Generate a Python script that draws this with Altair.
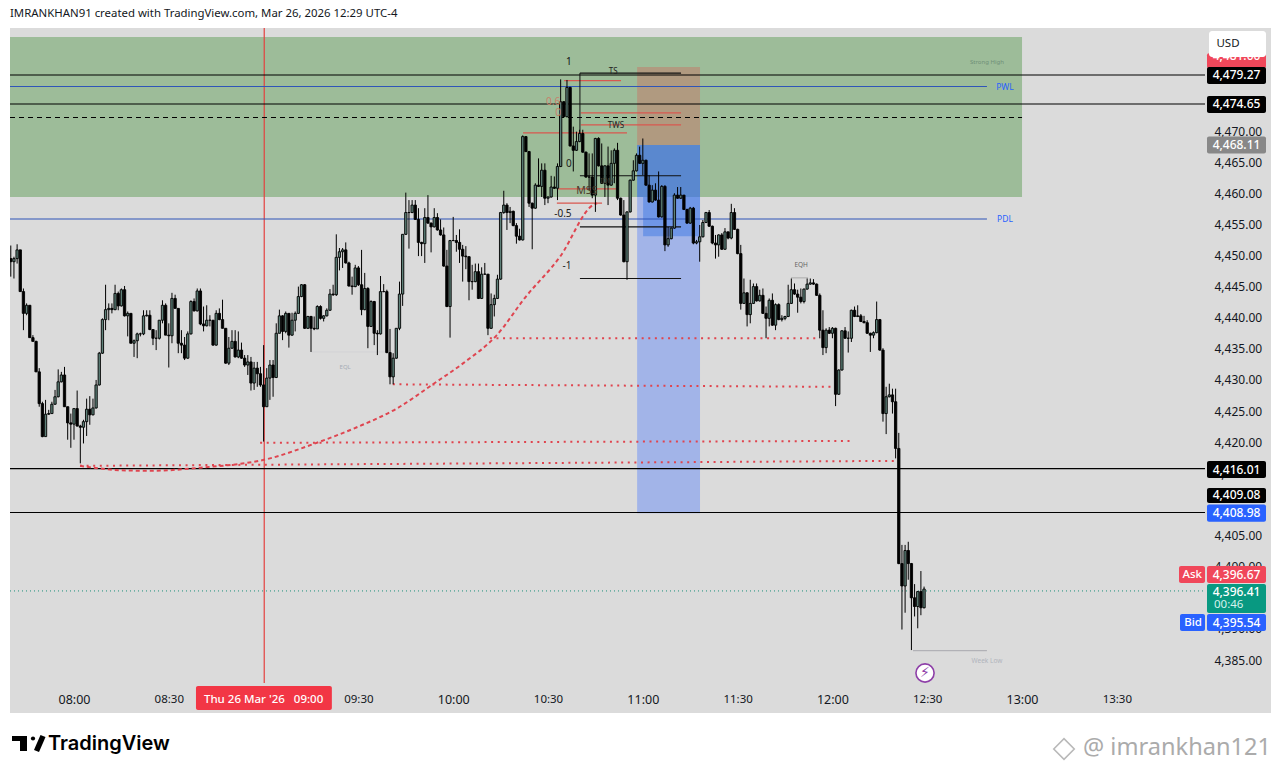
import altair as alt
import pandas as pd

FONT = "Noto Sans"
# ---------- candles (one per minute, first at 07:40) ----------
first_minute = 460
first_open = 4449.5
closes = [
4449.0,4449.5,4450.9,4444.2,4440.7,4442.0,4436.8,4436.2,4431.3,4426.2,
4420.9,4424.5,4424.6,4426.1,4427.3,4429.7,4430.8,4425.7,4423.1,4422.9,
4425.4,4422.6,4422.4,4423.3,4425.3,4424.4,4425.5,4429.2,4434.3,4439.7,
4441.3,4441.5,4441.3,4443.9,4441.9,4444.5,4440.3,4440.7,4435.9,4436.3,
4437.4,4437.4,4440.3,4440.4,4438.1,4436.7,4436.7,4439.6,4442.0,4437.2,
4437.1,4443.1,4441.5,4435.9,4435.6,4433.5,4437.4,4442.6,4441.1,4444.3,
4439.0,4438.7,4439.6,4439.6,4435.6,4440.7,4439.7,4438.3,4432.7,4435.1,
4436.2,4433.7,4434.8,4433.5,4432.4,4432.9,4429.5,4431.9,4431.0,4429.2,
4425.7,4430.3,4432.4,4430.4,4437.5,4440.3,4437.8,4440.7,4437.2,4439.6,
4440.7,4443.4,4445.3,4438.3,4440.2,4438.3,4438.2,4441.8,4439.9,4440.3,
4441.2,4443.8,4443.7,4449.7,4450.6,4450.9,4448.8,4445.1,4445.0,4448.0,
4445.3,4441.3,4444.7,4438.6,4442.6,4437.5,4437.4,4444.2,4444.2,4434.4,
4430.5,4433.5,4438.3,4443.8,4453.4,4456.9,4456.9,4458.1,4455.8,4452.1,
4451.9,4456.1,4455.2,4454.6,4456.1,4454.1,4453.3,4448.3,4441.8,4452.4,
4452.4,4452.1,4451.0,4449.9,4449.8,4445.8,4445.8,4447.4,4443.1,4447.0,
4447.0,4438.3,4442.1,4443.1,4446.2,4456.9,4458.1,4456.9,4457.1,4454.8,
4453.1,4452.5,4469.1,4466.7,4458.4,4457.6,4461.3,4461.1,4463.7,4459.2,
4459.4,4461.0,4460.8,4464.3,4474.7,4472.3,4477.0,4467.6,4466.9,4468.3,
4469.6,4466.6,4462.6,4462.6,4459.7,4468.8,4464.4,4461.6,4464.4,4461.3,
4464.8,4466.9,4459.2,4456.5,4449.0,4457.0,4462.1,4463.6,4466.1,4464.8,
4465.3,4461.3,4458.6,4460.5,4458.9,4456.2,4461.1,4451.7,4452.7,4454.4,
4459.7,4459.2,4459.7,4457.4,4455.2,4457.6,4452.0,4452.2,4453.0,4455.3,
4456.9,4454.7,4452.0,4451.7,4453.3,4451.0,4453.8,4452.8,4456.9,4454.2,
4450.3,4442.3,4444.0,4440.5,4442.3,4445.0,4442.7,4443.6,4440.7,4439.9,
4442.8,4438.8,4442.1,4439.7,4439.9,4440.2,4442.3,4444.5,4443.8,4443.3,
4442.6,4444.6,4445.4,4445.6,4445.4,4443.6,4438.0,4435.2,4438.0,4437.5,
4438.3,4427.7,4431.6,4437.9,4436.7,4436.7,4441.2,4440.2,4440.3,4439.4,
4439.2,4437.5,4437.2,4437.6,4439.7,4434.8,4424.6,4427.3,4427.6,4426.5,
4419.0,4400.5,4396.9,4402.6,4400.5,4395.0,4393.6,4396.0,4393.4,4396.41]
highs = [
4451.6,4449.8,4451.8,4450.9,4444.7,4442.3,4442.0,4437.2,4436.3,4431.9,
4426.5,4426.8,4425.2,4426.5,4428.4,4431.7,4431.3,4432.1,4425.7,4424.6,
4425.4,4428.3,4422.8,4423.6,4427.0,4427.4,4427.0,4430.0,4434.5,4439.9,
4445.3,4442.3,4442.3,4445.3,4444.2,4444.7,4445.1,4441.0,4440.7,4436.5,
4437.6,4437.6,4441.2,4441.2,4441.2,4438.1,4438.0,4439.6,4442.8,4442.3,
4439.1,4444.0,4443.7,4441.5,4438.0,4436.9,4437.8,4442.8,4443.1,4444.7,
4444.7,4441.8,4442.0,4440.4,4439.6,4441.2,4441.5,4442.9,4438.3,4436.9,
4438.0,4438.0,4437.8,4436.0,4434.0,4434.0,4433.7,4432.9,4432.9,4432.1,
4435.6,4431.9,4433.2,4433.2,4439.1,4441.3,4440.4,4441.0,4440.7,4440.8,
4441.0,4445.0,4445.4,4445.4,4440.3,4440.3,4440.2,4442.0,4442.0,4440.4,
4441.5,4444.6,4445.3,4453.4,4451.2,4451.2,4452.1,4449.0,4446.6,4448.5,
4448.3,4450.9,4447.2,4444.9,4442.8,4442.7,4438.0,4446.7,4445.4,4444.5,
4438.2,4434.3,4438.3,4445.8,4453.4,4460.1,4458.9,4458.9,4458.9,4457.6,
4452.2,4457.6,4459.7,4455.3,4457.6,4456.8,4455.8,4454.5,4450.9,4452.5,
4456.2,4453.3,4454.2,4451.7,4451.5,4449.9,4448.5,4448.7,4448.7,4448.1,
4448.8,4447.0,4443.9,4443.7,4446.9,4457.0,4460.4,4458.4,4457.8,4457.2,
4455.2,4454.3,4469.3,4469.2,4466.8,4458.5,4461.6,4465.6,4464.8,4464.8,
4459.5,4462.8,4462.7,4464.8,4478.3,4474.8,4478.2,4477.1,4470.7,4469.9,
4470.2,4470.2,4466.7,4466.4,4466.4,4468.9,4469.0,4468.0,4464.5,4467.5,
4466.9,4467.2,4468.1,4459.3,4458.9,4457.1,4462.2,4465.3,4466.4,4467.5,
4468.8,4465.4,4462.9,4461.3,4461.6,4463.5,4461.3,4461.3,4454.6,4454.5,
4460.0,4461.0,4461.0,4459.4,4457.5,4457.8,4457.8,4452.5,4454.9,4455.7,
4457.0,4457.3,4454.8,4453.3,4453.4,4453.6,4454.4,4453.8,4458.3,4457.6,
4454.3,4451.7,4446.3,4444.1,4446.1,4445.5,4445.5,4444.5,4444.7,4441.8,
4443.1,4443.9,4442.3,4442.3,4440.4,4440.3,4445.3,4446.3,4445.5,4444.5,
4444.7,4444.7,4446.3,4446.3,4446.2,4445.5,4443.9,4441.2,4438.3,4438.5,
4438.5,4438.4,4431.7,4438.0,4438.5,4437.8,4441.3,4441.8,4442.0,4440.6,
4440.3,4439.6,4437.6,4437.8,4442.6,4439.8,4435.1,4428.9,4429.4,4428.6,
4428.6,4421.5,4403.5,4403.5,4404.0,4400.6,4397.2,4396.1,4399.3,4396.8]
lows = [
4446.6,4446.3,4448.7,4444.2,4438.0,4440.4,4436.8,4436.2,4431.3,4425.7,
4420.8,4420.9,4424.4,4424.6,4426.0,4427.2,4429.6,4425.7,4420.4,4419.1,
4420.4,4422.5,4416.6,4419.8,4421.0,4422.8,4424.3,4425.4,4429.1,4434.2,
4438.0,4439.6,4440.7,4441.2,4441.2,4441.8,4440.2,4437.0,4435.9,4433.7,
4433.5,4437.0,4437.2,4440.2,4438.0,4435.6,4434.8,4436.5,4439.1,4437.2,
4432.0,4435.9,4441.5,4434.3,4434.3,4433.2,4433.4,4437.3,4441.0,4441.0,
4438.8,4437.8,4438.6,4438.6,4435.5,4435.5,4439.6,4438.3,4432.6,4432.4,
4435.0,4433.6,4433.5,4433.4,4432.1,4430.8,4428.3,4428.4,4428.9,4428.9,
4420.1,4426.5,4426.8,4427.3,4430.3,4437.5,4436.4,4437.5,4435.2,4437.1,
4437.8,4440.6,4443.3,4438.2,4438.2,4434.5,4438.0,4438.2,4439.7,4439.4,
4440.2,4441.1,4443.5,4443.5,4447.6,4448.0,4448.7,4445.0,4443.7,4444.9,
4445.1,4440.4,4441.2,4435.1,4438.5,4435.6,4434.0,4437.3,4444.1,4434.3,
4429.3,4429.3,4433.4,4438.0,4441.9,4453.3,4451.1,4456.8,4455.7,4449.9,
4449.9,4448.8,4455.1,4450.5,4454.5,4454.0,4453.2,4448.2,4441.7,4436.8,
4452.3,4450.6,4448.8,4445.8,4447.8,4442.8,4444.5,4445.7,4443.0,4443.0,
4446.9,4437.2,4438.2,4440.2,4443.0,4446.1,4456.7,4454.1,4455.2,4454.7,
4451.9,4452.4,4452.4,4466.6,4457.8,4451.0,4457.5,4461.0,4459.4,4458.1,
4458.4,4459.3,4460.7,4458.9,4464.2,4472.2,4472.2,4467.5,4463.5,4466.8,
4468.2,4466.5,4462.5,4460.5,4459.2,4457.0,4464.3,4461.5,4459.4,4458.1,
4461.2,4461.6,4458.9,4456.4,4448.9,4446.1,4456.9,4462.0,4463.5,4464.7,
4462.9,4461.2,4458.5,4458.5,4458.8,4456.1,4456.1,4450.7,4451.4,4452.6,
4454.3,4459.1,4459.1,4457.3,4455.1,4455.1,4451.8,4451.8,4449.0,4452.9,
4455.2,4454.6,4451.8,4449.5,4449.8,4450.9,4450.9,4452.6,4452.6,4454.1,
4450.2,4441.3,4442.2,4438.6,4439.1,4442.2,4442.6,4442.6,4440.6,4436.7,
4438.6,4438.7,4438.0,4439.6,4439.4,4439.6,4440.1,4442.2,4443.7,4440.8,
4442.3,4442.3,4444.5,4445.3,4445.3,4443.5,4436.7,4434.0,4434.3,4437.4,
4436.7,4425.8,4427.6,4431.5,4436.6,4434.4,4436.1,4440.1,4440.1,4439.3,
4439.1,4437.4,4434.5,4436.7,4437.5,4434.7,4423.3,4421.3,4427.2,4424.6,
4417.4,4400.4,4389.9,4392.6,4397.9,4386.6,4392.0,4390.1,4392.2,4393.3]

opens = [first_open] + closes[:-1]
candles = pd.DataFrame({
    "m": [first_minute + i for i in range(len(closes))],
    "o": opens, "c": closes,
})
candles["h"] = [max(a, b, c) for a, b, c in zip(highs, opens, closes)]
candles["l"] = [min(a, b, c) for a, b, c in zip(lows, opens, closes)]
candles["lo"] = candles[["o", "c"]].min(axis=1)
candles["hi"] = candles[["o", "c"]].max(axis=1)
candles["up"] = candles["c"] >= candles["o"]

# ---------- scales and axes ----------
xs = alt.Scale(domain=[459.75, 837.9], nice=False, zero=False, padding=0)
ys = alt.Scale(domain=[4381.31, 4486.55], nice=False, zero=False, padding=0)
W, H = 1195, 655
x_ticks = [480, 510, 540, 570, 600, 630, 660, 690, 720, 750, 780, 810]
y_ticks = [4385, 4390, 4395, 4400, 4405, 4415, 4420, 4425, 4430, 4435, 4440, 4445,
           4450, 4455, 4460, 4465, 4470]
x_axis = alt.Axis(
    values=x_ticks, title=None, grid=False, domain=False, ticks=False, labelPadding=10,
    labelFont=FONT, labelColor="#131722", labelAngle=0,
    labelFontSize=alt.ExprRef("datum.value % 60 === 0 ? 12.5 : 11.5"),
    labelExpr="(floor(datum.value/60) < 10 ? '0' : '') + floor(datum.value/60) + ':' + (datum.value % 60 === 0 ? '00' : '30')")
y_axis = alt.Axis(
    orient="right", values=y_ticks, title=None, grid=False, domain=False, ticks=False,
    labelPadding=9, labelFont=FONT, labelFontSize=12, labelColor="#131722", format=",.2f",
    labelOverlap=False, labelAlign="left", labelBound=False)

def X(f): return alt.X(f, type="quantitative", scale=xs, axis=x_axis)
def Y(f): return alt.Y(f, type="quantitative", scale=ys, axis=y_axis)
def X2(f): return alt.X2(f)
def Y2(f): return alt.Y2(f)

# ---------- zones: minute start/end, price low/high, colour ----------
z_x0 = [459.75, 658.2, 658.2, 660.1, 658.2]
z_x1 = [780, 678.1, 678.1, 678.1, 678.1]
z_y0 = [4459.4, 4467.75, 4408.6, 4453.1, 4459.4]
z_y1 = [4485.1, 4480.3, 4459.4, 4459.4, 4467.75]
z_col = ["#9dbc99", "#b09a80", "#a2b4e8", "#6f96e6", "#5a88cf"]
zones = pd.DataFrame({"x0": z_x0, "x1": z_x1, "y0": z_y0, "y1": z_y1, "col": z_col})
zone_layer = alt.Chart(zones).mark_rect().encode(
    x=X("x0"), x2=X2("x1"), y=Y("y0"), y2=Y2("y1"),
    color=alt.Color("col:N", scale=None, legend=None))

# ---------- level lines ----------
l_x0 = [459.75]*8 + [640.1]*4 + [635.1, 640.4, 640.4, 622.1, 633.2, 632.8, 745.5, 706.9, 555.0]
l_x1 = [837.9, 837.9, 837.9, 837.9, 768.9, 768.9, 780, 837.9] + [672.1]*4 + \
       [653.1, 672.1, 672.1, 655.0, 651.5, 647.1, 768.9, 712.3, 578.4]
l_y0 = [4479.0, 4474.35, 4415.75, 4408.7, 4477.15, 4455.86, 4472.17, 4396.1,
        4479.3, 4462.8, 4454.6, 4446.3,
        4478.1, 4472.9, 4471.0, 4469.7, 4460.7, 4458.4, 4386.5, 4446.4, 4434.5]
l_col = ["#000000"]*4 + ["#2f55b8"]*2 + ["#000000", "#1b8f7a"] + ["#111111"]*4 + \
        ["#d9574f"]*6 + ["#a8a8ae", "#8a8a8a", "#d0d0d4"]
l_w = [1.1]*4 + [1.1]*2 + [1.1, 1] + [1.1]*4 + [1.2]*6 + [1, .6, .8]
l_dash = ["s"]*6 + ["d", "o"] + ["s"]*13
levels = pd.DataFrame({"x0": l_x0, "x1": l_x1, "y": l_y0, "col": l_col, "w": l_w, "dash": l_dash})
def lv(kind, dash):
    return alt.Chart(levels[levels.dash == kind]).mark_rule(strokeDash=dash).encode(
        x=X("x0"), x2=X2("x1"), y=Y("y"),
        color=alt.Color("col:N", scale=None, legend=None),
        strokeWidth=alt.StrokeWidth("w:Q", scale=None, legend=None))
solid_levels = alt.Chart(levels[levels.dash == "s"]).mark_rule().encode(
    x=X("x0"), x2=X2("x1"), y=Y("y"),
    color=alt.Color("col:N", scale=None, legend=None),
    strokeWidth=alt.StrokeWidth("w:Q", scale=None, legend=None))
dashed_levels = lv("d", [5, 4])
dotted_levels = lv("o", [1, 3])

# vertical marks: crosshair at 09:00, fib stem
cross = alt.Chart(pd.DataFrame({"m": [540.2], "y0": [4381.31], "y1": [4486.55]})).mark_rule(
    color="#e4403f", strokeWidth=1.2).encode(x=X("m"), y=Y("y0"), y2=Y2("y1"))
stem = alt.Chart(pd.DataFrame({"m": [640.1], "y0": [4469.2], "y1": [4479.3]})).mark_rule(
    color="#111111", strokeWidth=1).encode(x=X("m"), y=Y("y0"), y2=Y2("y1"))

# red dotted liquidity lines
r_id = ["a","a","b","b","c","c","d","d"]
r_m  = [611.6, 716.1, 580.9, 720.2, 538.9, 725.9, 481.9, 740.1]
r_p  = [4436.7, 4436.7, 4429.3, 4428.9, 4419.9, 4420.2, 4416.2, 4417.0]
dots = alt.Chart(pd.DataFrame({"id": r_id, "m": r_m, "p": r_p})).mark_line(
    color="#e0444e", strokeWidth=2, strokeDash=[2, 4.6]).encode(
    x=X("m"), y=Y("p"), detail="id:N")

# curved dashed line
curve_m = [481.9, 494.6, 504, 519.9, 542.0, 555.7, 569.5, 582.1, 593.7, 603.2, 613.8, 622.7, 633.8, 644.2, 645.5]
curve_p = [4416.2, 4415.5, 4415.4, 4415.9, 4417.4, 4419.7, 4422.4, 4425.4, 4429.35, 4432.7, 4437.2, 4443.2, 4449.8, 4458.1, 4458.4]
curve = alt.Chart(pd.DataFrame({"m": curve_m, "p": curve_p})).mark_line(
    color="#df4550", strokeWidth=2, strokeDash=[4, 3], interpolate="monotone").encode(x=X("m"), y=Y("p"))

# ---------- candles ----------
wicks = alt.Chart(candles).mark_rule(color="#000000", strokeWidth=1).encode(
    x=X("m"), y=Y("l"), y2=Y2("h"))
bodies = alt.Chart(candles).mark_bar(size=2.3, stroke="#000000", strokeWidth=0.9, orient="vertical").encode(
    x=X("m"), y=Y("lo"), y2=Y2("hi"),
    color=alt.condition("datum.up", alt.value("#5d8078"), alt.value("#000000")))

# ---------- annotations on the chart ----------
a_txt = ["Strong High", "PWL", "PDL", "EQL", "EQH", "Week Low", "1", "0", "-0.5", "-1", "TS", "TWS", "MSS", "0.6", "0", "IDM"]
a_m = [768.9, 774.6, 774.6, 565.8, 710.1, 768.9, 636.6, 636.6, 634.7, 636, 650.6, 651.5, 642.3, 631.6, 633.2, 648.7]
a_p = [4481.1, 4477.07, 4455.86, 4432.1, 4448.5, 4384.85, 4481.1, 4464.7, 4456.7, 4448.3, 4479.5, 4470.8, 4460.3, 4474.7, 4472.9, 4462.0]
a_size = [6, 8.5, 8.5, 6, 6.5, 6.5, 10, 10, 10, 10, 8, 8, 10.5, 10, 10, 7]
a_col = ["#6f8f78", "#2962ff", "#2962ff", "#a6adb6", "#666666", "#b0b4bc", "#111111", "#222222", "#222222", "#222222",
         "#222222", "#222222", "#4a3a2a", "#c9806a", "#c9806a", "#4a4a3a"]
ann = pd.DataFrame({"t": a_txt, "m": a_m, "p": a_p, "s": a_size, "col": a_col})
ann_layer = alt.Chart(ann).mark_text(font=FONT, align="center", baseline="middle").encode(
    x=X("m"), y=Y("p"), text="t:N",
    size=alt.Size("s:Q", scale=None, legend=None),
    color=alt.Color("col:N", scale=None, legend=None))

# ---------- frame (white strips around the grey page background) ----------
def strip(x0, x1, y0, y1):
    return alt.Chart(pd.DataFrame({"a": [0]})).mark_rect(color="#ffffff").encode(
        x=alt.value(x0), x2=alt.value(x1), y=alt.value(y0), y2=alt.value(y1))
frame = [strip(-2, 1263, -20, 0), strip(-2, 1263, 685, 738), strip(1261, 1263, -20, 738), strip(-2, 0, -20, 738)]

# ---------- price badges (b_at: level where the stacked label sits on the scale) ----------
b_label = ["4,481.00", "4,479.27", "4,474.65", "4,468.11", "4,416.01", "4,409.08", "4,408.98", "4,396.67", "4,396.41", "4,395.54"]
b_price = [4481.0, 4479.27, 4474.65, 4468.11, 4416.01, 4409.08, 4408.98, 4396.67, 4396.41, 4395.54]
b_at = [4481.3, 4478.92, 4474.26, 4467.75, 4415.61, 4411.44, 4408.6, 4398.74, 4394.9, 4391.03]
b_txt_at = [4482.1, 4478.92, 4474.26, 4467.75, 4415.61, 4411.44, 4408.6, 4398.74, 4396.0, 4391.03]
b_col = ["#f0475a", "#000000", "#000000", "#888888", "#000000", "#000000", "#2962ff", "#f0475a", "#089981", "#2962ff"]
b_half = [1.2, 1.37, 1.37, 1.37, 1.37, 1.2, 1.4, 1.37, 2.33, 1.37]
badges = pd.DataFrame({"t": b_label, "p": b_price, "at": b_txt_at, "col": b_col})
badges["y0"] = [a - h for a, h in zip(b_at, b_half)]
badges["y1"] = [a + h for a, h in zip(b_at, b_half)]
badge_layers = []
for i in range(len(badges)):
    row = badges.iloc[[i]]
    badge_layers.append(alt.Chart(row).mark_rect(cornerRadius=2).encode(
        x=alt.value(1197), x2=alt.value(1256), y=Y("y0"), y2=Y2("y1"),
        color=alt.Color("col:N", scale=None, legend=None)))
    badge_layers.append(alt.Chart(row).mark_text(
        font=FONT, fontSize=12, fontWeight=500, color="#ffffff", align="center", baseline="middle").encode(
        x=alt.value(1226.5), y=Y("at"), text="t:N"))

countdown = alt.Chart(pd.DataFrame({"p": [4393.84], "t": ["00:46"]})).mark_text(
    font=FONT, fontSize=11.5, color="#d5f2ec", align="left", baseline="middle").encode(
    x=alt.value(1204), y=Y("p"), text="t:N")

side = pd.DataFrame({"t": ["Ask", "Bid"], "p": [4398.74, 4391.03], "col": ["#f0475a", "#2962ff"],
                     "start": [1169, 1170]})
side["y0"] = side.p - 1.37
side["y1"] = side.p + 1.37
side_rects = [alt.Chart(side.iloc[[i]]).mark_rect(cornerRadius=2).encode(
    x=alt.value(int(side.start[i])), x2=alt.value(1195), y=Y("y0"), y2=Y2("y1"),
    color=alt.Color("col:N", scale=None, legend=None)) for i in range(2)]
side_text = alt.Chart(side).mark_text(font=FONT, fontSize=11.5, fontWeight=500, color="#ffffff",
                                      align="right", baseline="middle").encode(
    x=alt.value(1192), y=Y("p"), text="t:N")

def label(txt, px, py, size, color="#000000", weight=400, align="left", font=FONT):
    return alt.Chart(pd.DataFrame({"t": [txt]})).mark_text(
        font=font, fontSize=size, color=color, fontWeight=weight, align=align, baseline="middle").encode(
        x=alt.value(px - 10), y=alt.value(py - 28), text="t:N")

usd_box = alt.Chart(pd.DataFrame({"a": [0]})).mark_rect(color="#ffffff", cornerRadius=3).encode(
    x=alt.value(1199), x2=alt.value(1256), y=alt.value(3), y2=alt.value(29))

# 09:00 date badge on the time axis
date_badge = alt.Chart(pd.DataFrame({"x0": [518.6], "x1": [561.6]})).mark_rect(color="#f23645", cornerRadius=2).encode(
    x=X("x0"), x2=X2("x1"), y=alt.value(658), y2=alt.value(682))
date_text = alt.Chart(pd.DataFrame({"m": [540], "t": ["Thu 26 Mar '26\u00a0\u00a0\u00a009:00"]})).mark_text(
    font=FONT, fontSize=11.5, fontWeight=500, color="#ffffff", align="center", baseline="middle").encode(
    x=X("m"), y=alt.value(672), text="t:N")

# lightning bolt marker
bolt_ring = alt.Chart(pd.DataFrame({"m": [749.3]})).mark_point(
    shape="circle", size=330, filled=True, fill="#ffffff", stroke="#8e3fa8", strokeWidth=1.6, opacity=1).encode(
    x=X("m"), y=alt.value(645))
bolt = alt.Chart(pd.DataFrame({"m": [749.3], "t": ["\u26a1"]})).mark_text(
    font="DejaVu Sans", fontSize=14, color="#8e3fa8", align="center", baseline="middle").encode(
    x=X("m"), y=alt.value(645), text="t:N")

# TradingView logo
logo = [
    alt.Chart(pd.DataFrame({"a": [0]})).mark_rect(color="#000000").encode(
        x=alt.value(2), x2=alt.value(17), y=alt.value(708), y2=alt.value(713)),
    alt.Chart(pd.DataFrame({"a": [0]})).mark_rect(color="#000000").encode(
        x=alt.value(10), x2=alt.value(17), y=alt.value(708), y2=alt.value(723)),
    alt.Chart(pd.DataFrame({"a": [0]})).mark_point(shape="circle", filled=True, color="#000000", opacity=1, size=18).encode(
        x=alt.value(23), y=alt.value(710.5)),
    alt.Chart(pd.DataFrame({"a": [0]})).mark_rule(color="#000000", strokeWidth=5.5).encode(
        x=alt.value(33), x2=alt.value(26.5), y=alt.value(708), y2=alt.value(723)),
]
watermark_icon = alt.Chart(pd.DataFrame({"a": [0]})).mark_point(
    shape="diamond", size=420, stroke="#b9b9b9", strokeWidth=1.6, opacity=1).encode(
    x=alt.value(1054), y=alt.value(721))

layers = [zone_layer, cross, solid_levels, stem, dashed_levels, dotted_levels, dots, curve,
          wicks, bodies, ann_layer] + frame + side_rects + badge_layers + [
    side_text, countdown, usd_box,
    label("USD", 1228, 44, 11.5, "#131722", align="center"),
    date_badge, date_text, bolt_ring, bolt,
    label("IMRANKHAN91 created with TradingView.com, Mar 26, 2026 12:29 UTC-4", 10, 14, 11.4, "#131722"),
] + logo + [
    label("TradingView", 48, 744, 20, "#000000", weight=600, font="Inter"),
    watermark_icon,
    label("@ imrankhan121", 1083, 748, 23.6, "#ababab"),
]

chart = alt.layer(*layers).properties(
    width=W, height=H,
    padding={"left": 2, "top": 20, "right": 68, "bottom": 83},
    autosize=alt.AutoSizeParams(type="none"),
    background="#dbdbdb",
).configure_view(stroke=None)

chart.save("out.html", embed_options={"renderer": "svg", "actions": False})
